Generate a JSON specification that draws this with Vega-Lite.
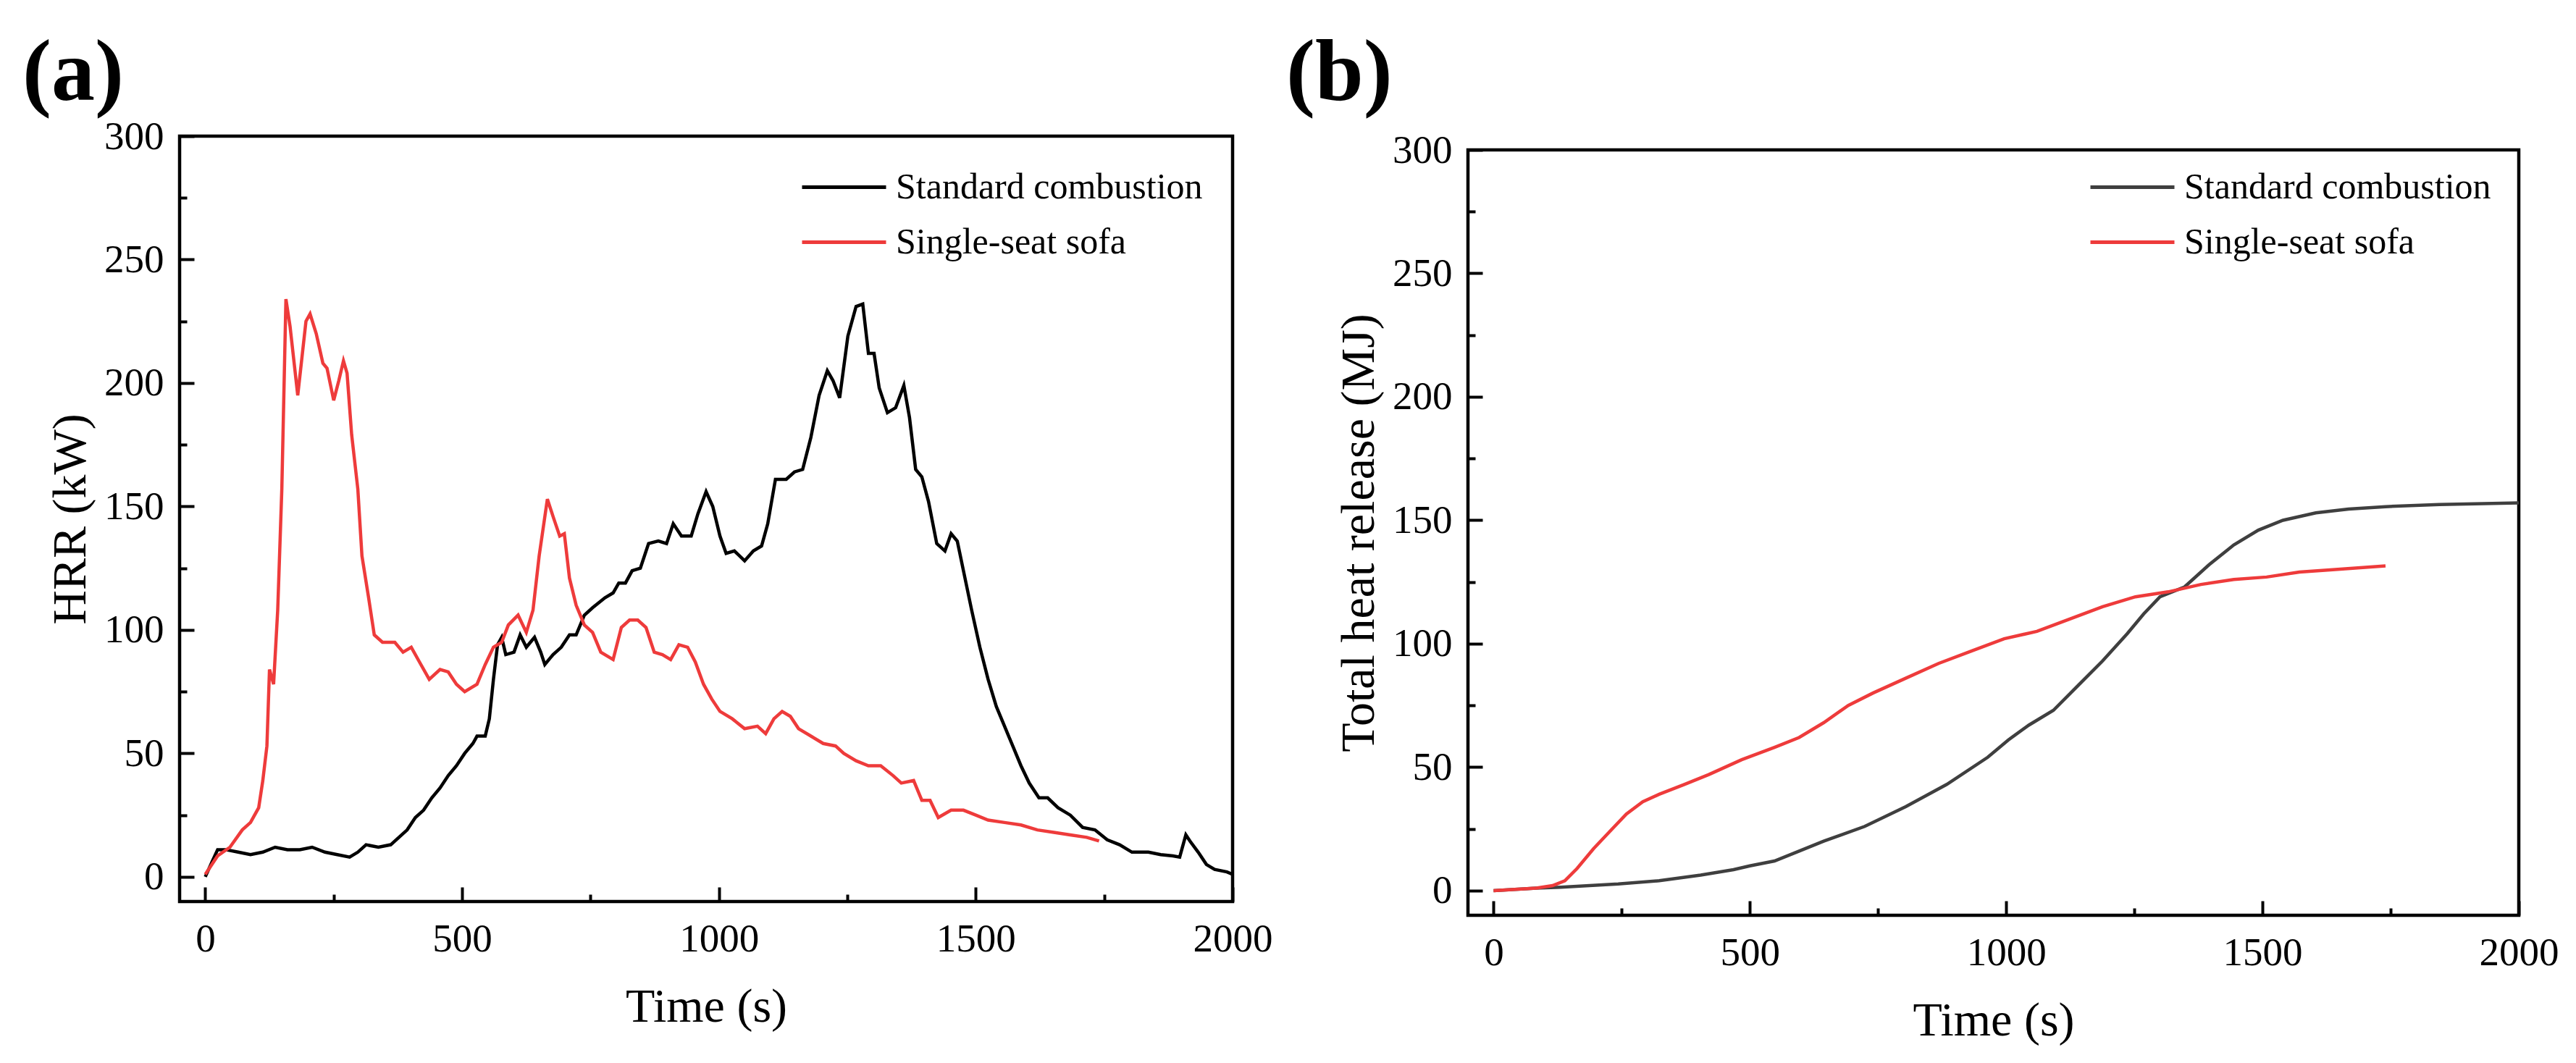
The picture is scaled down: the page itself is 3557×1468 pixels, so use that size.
{
  "$schema": "https://vega.github.io/schema/vega-lite/v6.json",
  "autosize": {"type": "none"},
  "padding": {"left": 248, "top": 188, "right": 3309, "bottom": 1280},
  "background": "white",
  "datasets": {
    "hrr": [
      {"t": 0, "v": 0, "series": "Standard combustion"},
      {"t": 13, "v": 6, "series": "Standard combustion"},
      {"t": 24, "v": 11, "series": "Standard combustion"},
      {"t": 40, "v": 11, "series": "Standard combustion"},
      {"t": 64, "v": 10, "series": "Standard combustion"},
      {"t": 88, "v": 9, "series": "Standard combustion"},
      {"t": 112, "v": 10, "series": "Standard combustion"},
      {"t": 136, "v": 12, "series": "Standard combustion"},
      {"t": 160, "v": 11, "series": "Standard combustion"},
      {"t": 184, "v": 11, "series": "Standard combustion"},
      {"t": 208, "v": 12, "series": "Standard combustion"},
      {"t": 233, "v": 10, "series": "Standard combustion"},
      {"t": 257, "v": 9, "series": "Standard combustion"},
      {"t": 281, "v": 8, "series": "Standard combustion"},
      {"t": 297, "v": 10, "series": "Standard combustion"},
      {"t": 313, "v": 13, "series": "Standard combustion"},
      {"t": 337, "v": 12, "series": "Standard combustion"},
      {"t": 361, "v": 13, "series": "Standard combustion"},
      {"t": 377, "v": 16, "series": "Standard combustion"},
      {"t": 393, "v": 19, "series": "Standard combustion"},
      {"t": 409, "v": 24, "series": "Standard combustion"},
      {"t": 425, "v": 27, "series": "Standard combustion"},
      {"t": 441, "v": 32, "series": "Standard combustion"},
      {"t": 457, "v": 36, "series": "Standard combustion"},
      {"t": 473, "v": 41, "series": "Standard combustion"},
      {"t": 489, "v": 45, "series": "Standard combustion"},
      {"t": 505, "v": 50, "series": "Standard combustion"},
      {"t": 521, "v": 54, "series": "Standard combustion"},
      {"t": 529, "v": 57, "series": "Standard combustion"},
      {"t": 545, "v": 57, "series": "Standard combustion"},
      {"t": 553, "v": 64, "series": "Standard combustion"},
      {"t": 561, "v": 80, "series": "Standard combustion"},
      {"t": 569, "v": 94, "series": "Standard combustion"},
      {"t": 577, "v": 97, "series": "Standard combustion"},
      {"t": 585, "v": 90, "series": "Standard combustion"},
      {"t": 601, "v": 91, "series": "Standard combustion"},
      {"t": 613, "v": 98, "series": "Standard combustion"},
      {"t": 625, "v": 93, "series": "Standard combustion"},
      {"t": 641, "v": 97, "series": "Standard combustion"},
      {"t": 653, "v": 91, "series": "Standard combustion"},
      {"t": 661, "v": 86, "series": "Standard combustion"},
      {"t": 677, "v": 90, "series": "Standard combustion"},
      {"t": 693, "v": 93, "series": "Standard combustion"},
      {"t": 709, "v": 98, "series": "Standard combustion"},
      {"t": 722, "v": 98, "series": "Standard combustion"},
      {"t": 738, "v": 106, "series": "Standard combustion"},
      {"t": 754, "v": 109, "series": "Standard combustion"},
      {"t": 778, "v": 113, "series": "Standard combustion"},
      {"t": 794, "v": 115, "series": "Standard combustion"},
      {"t": 805, "v": 119, "series": "Standard combustion"},
      {"t": 818, "v": 119, "series": "Standard combustion"},
      {"t": 831, "v": 124, "series": "Standard combustion"},
      {"t": 847, "v": 125, "series": "Standard combustion"},
      {"t": 863, "v": 135, "series": "Standard combustion"},
      {"t": 882, "v": 136, "series": "Standard combustion"},
      {"t": 898, "v": 135, "series": "Standard combustion"},
      {"t": 911, "v": 143, "series": "Standard combustion"},
      {"t": 927, "v": 138, "series": "Standard combustion"},
      {"t": 946, "v": 138, "series": "Standard combustion"},
      {"t": 959, "v": 147, "series": "Standard combustion"},
      {"t": 975, "v": 156, "series": "Standard combustion"},
      {"t": 988, "v": 150, "series": "Standard combustion"},
      {"t": 1002, "v": 138, "series": "Standard combustion"},
      {"t": 1014, "v": 131, "series": "Standard combustion"},
      {"t": 1030, "v": 132, "series": "Standard combustion"},
      {"t": 1050, "v": 128, "series": "Standard combustion"},
      {"t": 1067, "v": 132, "series": "Standard combustion"},
      {"t": 1083, "v": 134, "series": "Standard combustion"},
      {"t": 1095, "v": 143, "series": "Standard combustion"},
      {"t": 1110, "v": 161, "series": "Standard combustion"},
      {"t": 1131, "v": 161, "series": "Standard combustion"},
      {"t": 1147, "v": 164, "series": "Standard combustion"},
      {"t": 1163, "v": 165, "series": "Standard combustion"},
      {"t": 1179, "v": 178, "series": "Standard combustion"},
      {"t": 1195, "v": 195, "series": "Standard combustion"},
      {"t": 1211, "v": 205, "series": "Standard combustion"},
      {"t": 1222, "v": 201, "series": "Standard combustion"},
      {"t": 1235, "v": 194, "series": "Standard combustion"},
      {"t": 1251, "v": 219, "series": "Standard combustion"},
      {"t": 1267, "v": 231, "series": "Standard combustion"},
      {"t": 1280, "v": 232, "series": "Standard combustion"},
      {"t": 1291, "v": 212, "series": "Standard combustion"},
      {"t": 1302, "v": 212, "series": "Standard combustion"},
      {"t": 1312, "v": 198, "series": "Standard combustion"},
      {"t": 1328, "v": 188, "series": "Standard combustion"},
      {"t": 1344, "v": 190, "series": "Standard combustion"},
      {"t": 1360, "v": 199, "series": "Standard combustion"},
      {"t": 1371, "v": 186, "series": "Standard combustion"},
      {"t": 1383, "v": 165, "series": "Standard combustion"},
      {"t": 1395, "v": 162, "series": "Standard combustion"},
      {"t": 1408, "v": 152, "series": "Standard combustion"},
      {"t": 1424, "v": 135, "series": "Standard combustion"},
      {"t": 1440, "v": 132, "series": "Standard combustion"},
      {"t": 1452, "v": 139, "series": "Standard combustion"},
      {"t": 1464, "v": 136, "series": "Standard combustion"},
      {"t": 1476, "v": 124, "series": "Standard combustion"},
      {"t": 1492, "v": 108, "series": "Standard combustion"},
      {"t": 1508, "v": 93, "series": "Standard combustion"},
      {"t": 1524, "v": 80, "series": "Standard combustion"},
      {"t": 1540, "v": 69, "series": "Standard combustion"},
      {"t": 1556, "v": 61, "series": "Standard combustion"},
      {"t": 1572, "v": 53, "series": "Standard combustion"},
      {"t": 1588, "v": 45, "series": "Standard combustion"},
      {"t": 1604, "v": 38, "series": "Standard combustion"},
      {"t": 1623, "v": 32, "series": "Standard combustion"},
      {"t": 1640, "v": 32, "series": "Standard combustion"},
      {"t": 1660, "v": 28, "series": "Standard combustion"},
      {"t": 1684, "v": 25, "series": "Standard combustion"},
      {"t": 1708, "v": 20, "series": "Standard combustion"},
      {"t": 1732, "v": 19, "series": "Standard combustion"},
      {"t": 1756, "v": 15, "series": "Standard combustion"},
      {"t": 1780, "v": 13, "series": "Standard combustion"},
      {"t": 1804, "v": 10, "series": "Standard combustion"},
      {"t": 1836, "v": 10, "series": "Standard combustion"},
      {"t": 1860, "v": 9, "series": "Standard combustion"},
      {"t": 1884, "v": 8.5, "series": "Standard combustion"},
      {"t": 1897, "v": 8, "series": "Standard combustion"},
      {"t": 1909, "v": 17, "series": "Standard combustion"},
      {"t": 1917, "v": 14.5, "series": "Standard combustion"},
      {"t": 1933, "v": 10, "series": "Standard combustion"},
      {"t": 1949, "v": 5, "series": "Standard combustion"},
      {"t": 1965, "v": 3, "series": "Standard combustion"},
      {"t": 1989, "v": 2, "series": "Standard combustion"},
      {"t": 2000, "v": 1, "series": "Standard combustion"},
      {"t": 0, "v": 1, "series": "Single-seat sofa"},
      {"t": 24, "v": 8.5, "series": "Single-seat sofa"},
      {"t": 48, "v": 12, "series": "Single-seat sofa"},
      {"t": 72, "v": 19, "series": "Single-seat sofa"},
      {"t": 88, "v": 22, "series": "Single-seat sofa"},
      {"t": 104, "v": 28, "series": "Single-seat sofa"},
      {"t": 112, "v": 39, "series": "Single-seat sofa"},
      {"t": 120, "v": 53, "series": "Single-seat sofa"},
      {"t": 125, "v": 84, "series": "Single-seat sofa"},
      {"t": 133, "v": 78, "series": "Single-seat sofa"},
      {"t": 141, "v": 108, "series": "Single-seat sofa"},
      {"t": 149, "v": 157, "series": "Single-seat sofa"},
      {"t": 157, "v": 234, "series": "Single-seat sofa"},
      {"t": 165, "v": 223, "series": "Single-seat sofa"},
      {"t": 180, "v": 195, "series": "Single-seat sofa"},
      {"t": 196, "v": 225, "series": "Single-seat sofa"},
      {"t": 204, "v": 228, "series": "Single-seat sofa"},
      {"t": 216, "v": 220, "series": "Single-seat sofa"},
      {"t": 229, "v": 208, "series": "Single-seat sofa"},
      {"t": 237, "v": 206, "series": "Single-seat sofa"},
      {"t": 250, "v": 193, "series": "Single-seat sofa"},
      {"t": 260, "v": 201, "series": "Single-seat sofa"},
      {"t": 269, "v": 209, "series": "Single-seat sofa"},
      {"t": 276, "v": 204, "series": "Single-seat sofa"},
      {"t": 285, "v": 179, "series": "Single-seat sofa"},
      {"t": 297, "v": 157, "series": "Single-seat sofa"},
      {"t": 305, "v": 130, "series": "Single-seat sofa"},
      {"t": 318, "v": 113, "series": "Single-seat sofa"},
      {"t": 329, "v": 98, "series": "Single-seat sofa"},
      {"t": 345, "v": 95, "series": "Single-seat sofa"},
      {"t": 369, "v": 95, "series": "Single-seat sofa"},
      {"t": 385, "v": 91, "series": "Single-seat sofa"},
      {"t": 401, "v": 93, "series": "Single-seat sofa"},
      {"t": 417, "v": 87, "series": "Single-seat sofa"},
      {"t": 436, "v": 80, "series": "Single-seat sofa"},
      {"t": 457, "v": 84, "series": "Single-seat sofa"},
      {"t": 473, "v": 83, "series": "Single-seat sofa"},
      {"t": 489, "v": 78, "series": "Single-seat sofa"},
      {"t": 505, "v": 75, "series": "Single-seat sofa"},
      {"t": 529, "v": 78, "series": "Single-seat sofa"},
      {"t": 545, "v": 86, "series": "Single-seat sofa"},
      {"t": 561, "v": 93, "series": "Single-seat sofa"},
      {"t": 577, "v": 95, "series": "Single-seat sofa"},
      {"t": 590, "v": 102, "series": "Single-seat sofa"},
      {"t": 609, "v": 106, "series": "Single-seat sofa"},
      {"t": 625, "v": 99, "series": "Single-seat sofa"},
      {"t": 638, "v": 108, "series": "Single-seat sofa"},
      {"t": 650, "v": 130, "series": "Single-seat sofa"},
      {"t": 666, "v": 153, "series": "Single-seat sofa"},
      {"t": 677, "v": 146, "series": "Single-seat sofa"},
      {"t": 690, "v": 138, "series": "Single-seat sofa"},
      {"t": 699, "v": 139, "series": "Single-seat sofa"},
      {"t": 709, "v": 121, "series": "Single-seat sofa"},
      {"t": 722, "v": 110, "series": "Single-seat sofa"},
      {"t": 738, "v": 102, "series": "Single-seat sofa"},
      {"t": 754, "v": 99, "series": "Single-seat sofa"},
      {"t": 770, "v": 91, "series": "Single-seat sofa"},
      {"t": 794, "v": 88, "series": "Single-seat sofa"},
      {"t": 810, "v": 101, "series": "Single-seat sofa"},
      {"t": 826, "v": 104, "series": "Single-seat sofa"},
      {"t": 842, "v": 104, "series": "Single-seat sofa"},
      {"t": 858, "v": 101, "series": "Single-seat sofa"},
      {"t": 874, "v": 91, "series": "Single-seat sofa"},
      {"t": 890, "v": 90, "series": "Single-seat sofa"},
      {"t": 906, "v": 88, "series": "Single-seat sofa"},
      {"t": 922, "v": 94, "series": "Single-seat sofa"},
      {"t": 939, "v": 93, "series": "Single-seat sofa"},
      {"t": 954, "v": 87, "series": "Single-seat sofa"},
      {"t": 970, "v": 78, "series": "Single-seat sofa"},
      {"t": 986, "v": 72, "series": "Single-seat sofa"},
      {"t": 1002, "v": 67, "series": "Single-seat sofa"},
      {"t": 1026, "v": 64, "series": "Single-seat sofa"},
      {"t": 1050, "v": 60, "series": "Single-seat sofa"},
      {"t": 1075, "v": 61, "series": "Single-seat sofa"},
      {"t": 1091, "v": 58, "series": "Single-seat sofa"},
      {"t": 1107, "v": 64, "series": "Single-seat sofa"},
      {"t": 1123, "v": 67, "series": "Single-seat sofa"},
      {"t": 1139, "v": 65, "series": "Single-seat sofa"},
      {"t": 1155, "v": 60, "series": "Single-seat sofa"},
      {"t": 1179, "v": 57, "series": "Single-seat sofa"},
      {"t": 1203, "v": 54, "series": "Single-seat sofa"},
      {"t": 1227, "v": 53, "series": "Single-seat sofa"},
      {"t": 1243, "v": 50, "series": "Single-seat sofa"},
      {"t": 1267, "v": 47, "series": "Single-seat sofa"},
      {"t": 1291, "v": 45, "series": "Single-seat sofa"},
      {"t": 1315, "v": 45, "series": "Single-seat sofa"},
      {"t": 1339, "v": 41, "series": "Single-seat sofa"},
      {"t": 1355, "v": 38, "series": "Single-seat sofa"},
      {"t": 1379, "v": 39, "series": "Single-seat sofa"},
      {"t": 1395, "v": 31, "series": "Single-seat sofa"},
      {"t": 1411, "v": 31, "series": "Single-seat sofa"},
      {"t": 1427, "v": 24, "series": "Single-seat sofa"},
      {"t": 1452, "v": 27, "series": "Single-seat sofa"},
      {"t": 1476, "v": 27, "series": "Single-seat sofa"},
      {"t": 1500, "v": 25, "series": "Single-seat sofa"},
      {"t": 1524, "v": 23, "series": "Single-seat sofa"},
      {"t": 1556, "v": 22, "series": "Single-seat sofa"},
      {"t": 1588, "v": 21, "series": "Single-seat sofa"},
      {"t": 1620, "v": 19, "series": "Single-seat sofa"},
      {"t": 1652, "v": 18, "series": "Single-seat sofa"},
      {"t": 1684, "v": 17, "series": "Single-seat sofa"},
      {"t": 1716, "v": 16, "series": "Single-seat sofa"},
      {"t": 1740, "v": 14.5, "series": "Single-seat sofa"}
    ],
    "thr": [
      {"t": 0, "v": 0, "series": "Standard combustion"},
      {"t": 83, "v": 1, "series": "Standard combustion"},
      {"t": 131, "v": 1.4, "series": "Standard combustion"},
      {"t": 243, "v": 2.7, "series": "Standard combustion"},
      {"t": 323, "v": 4, "series": "Standard combustion"},
      {"t": 404, "v": 6.3, "series": "Standard combustion"},
      {"t": 468, "v": 8.5, "series": "Standard combustion"},
      {"t": 500, "v": 10, "series": "Standard combustion"},
      {"t": 548, "v": 12, "series": "Standard combustion"},
      {"t": 596, "v": 16, "series": "Standard combustion"},
      {"t": 644, "v": 20, "series": "Standard combustion"},
      {"t": 724, "v": 26, "series": "Standard combustion"},
      {"t": 804, "v": 34, "series": "Standard combustion"},
      {"t": 884, "v": 43, "series": "Standard combustion"},
      {"t": 964, "v": 54, "series": "Standard combustion"},
      {"t": 1004, "v": 61, "series": "Standard combustion"},
      {"t": 1044, "v": 67, "series": "Standard combustion"},
      {"t": 1092, "v": 73, "series": "Standard combustion"},
      {"t": 1140, "v": 83, "series": "Standard combustion"},
      {"t": 1188, "v": 93, "series": "Standard combustion"},
      {"t": 1236, "v": 104, "series": "Standard combustion"},
      {"t": 1268, "v": 112, "series": "Standard combustion"},
      {"t": 1300, "v": 119, "series": "Standard combustion"},
      {"t": 1348, "v": 123, "series": "Standard combustion"},
      {"t": 1396, "v": 132, "series": "Standard combustion"},
      {"t": 1444, "v": 140, "series": "Standard combustion"},
      {"t": 1492, "v": 146, "series": "Standard combustion"},
      {"t": 1540, "v": 150, "series": "Standard combustion"},
      {"t": 1604, "v": 153, "series": "Standard combustion"},
      {"t": 1668, "v": 154.5, "series": "Standard combustion"},
      {"t": 1740, "v": 155.5, "series": "Standard combustion"},
      {"t": 1845, "v": 156.4, "series": "Standard combustion"},
      {"t": 2000, "v": 157, "series": "Standard combustion"},
      {"t": 0, "v": 0, "series": "Single-seat sofa"},
      {"t": 83, "v": 1, "series": "Single-seat sofa"},
      {"t": 115, "v": 2, "series": "Single-seat sofa"},
      {"t": 139, "v": 4, "series": "Single-seat sofa"},
      {"t": 163, "v": 9, "series": "Single-seat sofa"},
      {"t": 195, "v": 17, "series": "Single-seat sofa"},
      {"t": 227, "v": 24, "series": "Single-seat sofa"},
      {"t": 259, "v": 31, "series": "Single-seat sofa"},
      {"t": 291, "v": 36, "series": "Single-seat sofa"},
      {"t": 323, "v": 39, "series": "Single-seat sofa"},
      {"t": 372, "v": 43, "series": "Single-seat sofa"},
      {"t": 420, "v": 47, "series": "Single-seat sofa"},
      {"t": 484, "v": 53, "series": "Single-seat sofa"},
      {"t": 548, "v": 58, "series": "Single-seat sofa"},
      {"t": 596, "v": 62, "series": "Single-seat sofa"},
      {"t": 644, "v": 68, "series": "Single-seat sofa"},
      {"t": 692, "v": 75, "series": "Single-seat sofa"},
      {"t": 740, "v": 80, "series": "Single-seat sofa"},
      {"t": 804, "v": 86, "series": "Single-seat sofa"},
      {"t": 868, "v": 92, "series": "Single-seat sofa"},
      {"t": 932, "v": 97, "series": "Single-seat sofa"},
      {"t": 996, "v": 102, "series": "Single-seat sofa"},
      {"t": 1060, "v": 105, "series": "Single-seat sofa"},
      {"t": 1124, "v": 110, "series": "Single-seat sofa"},
      {"t": 1188, "v": 115, "series": "Single-seat sofa"},
      {"t": 1252, "v": 119, "series": "Single-seat sofa"},
      {"t": 1316, "v": 121, "series": "Single-seat sofa"},
      {"t": 1380, "v": 124, "series": "Single-seat sofa"},
      {"t": 1444, "v": 126, "series": "Single-seat sofa"},
      {"t": 1508, "v": 127, "series": "Single-seat sofa"},
      {"t": 1572, "v": 129, "series": "Single-seat sofa"},
      {"t": 1637, "v": 130, "series": "Single-seat sofa"},
      {"t": 1740, "v": 131.5, "series": "Single-seat sofa"}
    ]
  },
  "hconcat": [
    {
      "title": {"text": "(a)", "dx": -217, "offset": -2},
      "width": 1454,
      "height": 1057,
      "data": {"name": "hrr"},
      "mark": {"type": "line", "strokeWidth": 4.5},
      "encoding": {
        "x": {
          "field": "t",
          "type": "quantitative",
          "scale": {"domain": [-50, 2000], "nice": false, "zero": false},
          "axis": {
            "title": "Time (s)",
            "values": [0, 250, 500, 750, 1000, 1250, 1500, 1750, 2000],
            "labelExpr": "datum.value % 500 === 0 ? datum.label : ''",
            "tickSize": {"condition": {"test": "datum.value % 500 !== 0", "value": -10}, "value": -20},
            "labelPadding": 45,
            "titlePadding": 24
          }
        },
        "y": {
          "field": "v",
          "type": "quantitative",
          "scale": {"domain": [-10, 300], "nice": false, "zero": false},
          "axis": {
            "title": "HRR (kW)",
            "values": [0, 25, 50, 75, 100, 125, 150, 175, 200, 225, 250, 275, 300],
            "labelExpr": "datum.value % 50 === 0 ? datum.label : ''",
            "tickSize": {"condition": {"test": "datum.value % 50 !== 0", "value": -10}, "value": -20},
            "labelPadding": 42,
            "titlePadding": 12
          }
        },
        "color": {
          "field": "series",
          "type": "nominal",
          "sort": ["Standard combustion", "Single-seat sofa"],
          "scale": {"domain": ["Standard combustion", "Single-seat sofa"], "range": ["#000000", "#ee3b3b"]},
          "legend": {"legendX": 886, "legendY": 39}
        }
      }
    },
    {
      "vconcat": [
        {
          "width": 1451,
          "height": 19,
          "data": {"values": []},
          "mark": "rule",
          "encoding": {},
          "view": {"stroke": null}
        },
        {
          "title": {"text": "(b)", "dx": -251, "offset": 17},
          "width": 1451,
          "height": 1057,
          "data": {"name": "thr"},
          "mark": {"type": "line", "strokeWidth": 4.5},
          "encoding": {
            "x": {
              "field": "t",
              "type": "quantitative",
              "scale": {"domain": [-50, 2000], "nice": false, "zero": false},
              "axis": {
                "title": "Time (s)",
                "values": [0, 250, 500, 750, 1000, 1250, 1500, 1750, 2000],
                "labelExpr": "datum.value % 500 === 0 ? datum.label : ''",
                "tickSize": {"condition": {"test": "datum.value % 500 !== 0", "value": -10}, "value": -20},
                "labelPadding": 45,
                "titlePadding": 24
              }
            },
            "y": {
              "field": "v",
              "type": "quantitative",
              "scale": {"domain": [-10, 300], "nice": false, "zero": false},
              "axis": {
                "title": "Total heat release (MJ)",
                "values": [0, 25, 50, 75, 100, 125, 150, 175, 200, 225, 250, 275, 300],
                "labelExpr": "datum.value % 50 === 0 ? datum.label : ''",
                "tickSize": {"condition": {"test": "datum.value % 50 !== 0", "value": -10}, "value": -20},
                "labelPadding": 42,
                "titlePadding": 12
              }
            },
            "color": {
              "field": "series",
              "type": "nominal",
              "sort": ["Standard combustion", "Single-seat sofa"],
              "scale": {"domain": ["Standard combustion", "Single-seat sofa"], "range": ["#3f3f3f", "#ee3b3b"]},
              "legend": {"legendX": 886, "legendY": 39}
            }
          }
        }
      ],
      "spacing": 0,
      "bounds": "flush"
    }
  ],
  "spacing": 325,
  "bounds": "flush",
  "resolve": {"scale": {"color": "independent"}, "legend": {"color": "independent"}},
  "config": {
    "font": "Liberation Serif",
    "view": {"stroke": "#000000", "strokeWidth": 4.5},
    "axis": {
      "domain": false,
      "grid": false,
      "format": "d",
      "labelFont": "Liberation Serif",
      "labelFontSize": 55,
      "labelColor": "#000000",
      "labelOverlap": false,
      "labelFlush": false,
      "labelBound": false,
      "tickColor": "#000000",
      "tickWidth": 4,
      "titleFont": "Liberation Serif",
      "titleFontSize": 66,
      "titleFontWeight": "normal",
      "titleColor": "#000000"
    },
    "legend": {
      "orient": "none",
      "title": null,
      "padding": 0,
      "labelFont": "Liberation Serif",
      "labelFontSize": 50,
      "labelColor": "#000000",
      "labelLimit": 0,
      "labelOffset": 40,
      "symbolType": "M-2,0L2,0",
      "symbolSize": 3364,
      "symbolStrokeWidth": 5,
      "symbolFillColor": "transparent",
      "rowPadding": 19
    },
    "title": {
      "anchor": "start",
      "frame": "group",
      "font": "Liberation Serif",
      "fontSize": 120,
      "fontWeight": "bold",
      "color": "#000000",
      "baseline": "alphabetic"
    }
  }
}
